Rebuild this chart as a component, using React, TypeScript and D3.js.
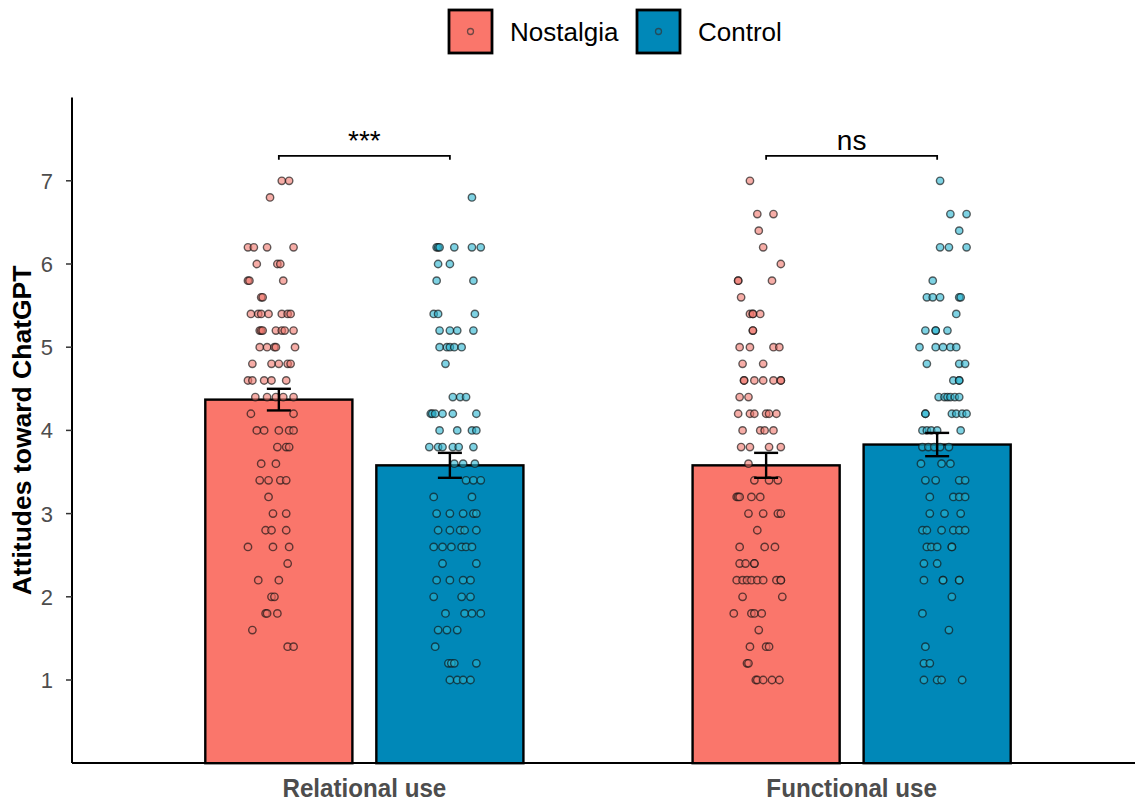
import React, { useEffect, useRef } from 'react';
import * as d3 from 'd3';

// categories
const groups = ['Relational use', 'Functional use'];
const conditions = ['Nostalgia', 'Control'];
const yTicks = [1, 2, 3, 4, 5, 6, 7];

// bar means and error bar limits, per group (Relational, Functional)
const meanNostalgia = [4.37, 3.58];
const meanControl = [3.58, 3.83];
const errNostalgia = [[4.24, 4.5], [3.43, 3.73]];
const errControl = [[3.43, 3.73], [3.69, 3.97]];
const sigLabels = ['***', 'ns'];
const sigLevel = 7.3;

// raw responses: [score, jitter offsets as fraction of bar width]
const relNostalgiaPts: [number, number[]][] = [
  [7.0, [0.02, 0.07]], [6.8, [-0.06]], [6.2, [-0.21, -0.17, -0.08, 0.1]],
  [6.0, [-0.15, -0.01, 0.01]], [5.8, [-0.21, -0.2, 0.03]], [5.6, [-0.12, -0.11]],
  [5.4, [-0.19, -0.14, -0.12, -0.07, 0.02, 0.06, 0.08]],
  [5.2, [-0.13, -0.12, -0.11, -0.02, 0.02, 0.04, 0.1]],
  [5.0, [-0.13, -0.08, -0.03, -0.02, 0.11]], [4.8, [-0.18, -0.05, 0, 0.06, 0.08]],
  [4.6, [-0.21, -0.18, -0.1, -0.05, 0.05]], [4.4, [-0.16, -0.08, -0.02, 0.03, 0.1]],
  [4.2, [-0.19, 0.1]], [4.0, [-0.15, -0.1, 0, 0.07, 0.1]], [3.8, [-0.01, 0.05, 0.07]],
  [3.6, [-0.12, -0.02]], [3.4, [-0.13, -0.07, 0.01, 0.05]], [3.2, [-0.07]],
  [3.0, [-0.04, 0.05]], [2.8, [-0.09, -0.05, 0.05]], [2.6, [-0.21, -0.04, 0.07]],
  [2.4, [0.06]], [2.2, [-0.14, 0]], [2.0, [-0.05, -0.03]], [1.8, [-0.09, -0.08, -0.01]],
  [1.6, [-0.18]], [1.4, [0.06, 0.1]],
];
const relControlPts: [number, number[]][] = [
  [6.8, [0.15]], [6.2, [-0.09, -0.08, -0.07, 0.03, 0.15, 0.21]], [6.0, [-0.08, 0]],
  [5.8, [-0.09, 0.16]], [5.4, [-0.11, -0.08, 0.17]], [5.2, [-0.07, 0, 0.05, 0.16]],
  [5.0, [-0.07, -0.02, 0, 0.03, 0.08]], [4.8, [-0.03]], [4.4, [0.02, 0.07, 0.11]],
  [4.2, [-0.13, -0.12, -0.1, -0.05, 0.02, 0.18]], [4.0, [-0.07, 0.05, 0.15, 0.18]],
  [3.8, [-0.14, -0.08, -0.05, 0.02, 0.06, 0.16]], [3.6, [0.03, 0.09, 0.17]],
  [3.4, [0.11, 0.16, 0.21]], [3.2, [-0.11, 0.15]], [3.0, [-0.09, 0, 0.09, 0.16, 0.18]],
  [2.8, [-0.08, 0, 0.07, 0.1, 0.18]], [2.6, [-0.11, -0.05, 0.01, 0.08, 0.11, 0.15]],
  [2.4, [-0.05, 0.18]], [2.2, [-0.09, 0, 0.09, 0.14]], [2.0, [-0.11, 0.08, 0.14]],
  [1.8, [-0.03, 0.1, 0.15, 0.21]], [1.6, [-0.08, -0.02, 0.05]], [1.4, [-0.1]],
  [1.2, [-0.01, 0.01, 0.03, 0.18]], [1.0, [0, 0.05, 0.09, 0.14]],
];
const funcNostalgiaPts: [number, number[]][] = [
  [7.0, [-0.11]], [6.6, [-0.06, 0.05]], [6.4, [-0.05]], [6.2, [-0.02]], [6.0, [0.1]],
  [5.8, [-0.19, -0.19, 0.04]], [5.6, [-0.17]], [5.4, [-0.11, -0.09, -0.09, -0.04]],
  [5.2, [-0.09, -0.09]], [5.0, [-0.18, -0.11, 0.05, 0.09]], [4.8, [-0.16, -0.02]],
  [4.6, [-0.15, -0.15, -0.08, -0.02, 0.05, 0.1, 0.1]], [4.4, [-0.18, -0.12]],
  [4.2, [-0.19, -0.11, -0.08, 0, 0.02, 0.07]], [4.0, [-0.16, -0.04, -0.01, 0.05]],
  [3.8, [-0.17, -0.11, 0.02, 0.1]], [3.6, [-0.12]], [3.4, [-0.08, 0.02, 0.08]],
  [3.2, [-0.2, -0.19, -0.18, -0.1, -0.04]], [3.0, [-0.12, -0.02, 0.08, 0.1]],
  [2.8, [-0.06]], [2.6, [-0.18, -0.01, 0.06]], [2.4, [-0.18, -0.14, -0.08, -0.08]],
  [2.2, [-0.2, -0.16, -0.13, -0.1, -0.06, -0.02, 0.07, 0.1, 0.1]], [2.0, [-0.16, 0.11]],
  [1.8, [-0.22, -0.1, -0.08, -0.03]], [1.6, [-0.05]], [1.4, [-0.11, 0, 0.02]],
  [1.2, [-0.13, -0.12]], [1.0, [-0.07, -0.06, -0.02, 0.04, 0.09]],
];
const funcControlPts: [number, number[]][] = [
  [7.0, [0.02]], [6.6, [0.09, 0.2]], [6.4, [0.15]], [6.2, [0.02, 0.08, 0.2]],
  [5.8, [-0.03]], [5.6, [-0.07, -0.03, 0.02, 0.15, 0.16]], [5.4, [0.13]],
  [5.2, [-0.08, -0.01, -0.01, 0.07]], [5.0, [-0.12, -0.01, 0.04, 0.09, 0.13]],
  [4.8, [-0.07, 0.15, 0.19]], [4.6, [0.11, 0.15, 0.15]],
  [4.4, [0.01, 0.05, 0.07, 0.09, 0.12, 0.15]], [4.2, [-0.08, -0.08, 0.1, 0.13, 0.17, 0.2]],
  [4.0, [-0.1, -0.07, -0.04, 0, 0.16]], [3.8, [-0.1, -0.06, -0.02, 0.02, 0.08]],
  [3.6, [-0.11, 0.03, 0.09]], [3.4, [-0.08, -0.01, 0.15, 0.19]],
  [3.2, [-0.05, 0.11, 0.15, 0.19]], [3.0, [-0.05, 0.05, 0.16]],
  [2.8, [-0.1, -0.07, 0.03, 0.11, 0.15, 0.19]], [2.6, [-0.07, -0.04, 0, 0.1, 0.1]],
  [2.4, [-0.09, 0]], [2.2, [-0.09, 0.04, 0.04, 0.15, 0.15]], [2.0, [0.1]], [1.8, [-0.1]],
  [1.6, [0.08]], [1.4, [-0.08]], [1.2, [-0.09, -0.05]], [1.0, [-0.09, 0, 0.03, 0.17]],
];

const barColor = { Nostalgia: '#FA766B', Control: '#0088B8' };
const pointColor = { Nostalgia: '#F0766C', Control: '#28B4D0' };
const font = 'Liberation Sans, Arial, sans-serif';

export default function App() {
  const svgRef = useRef<SVGSVGElement>(null);

  useEffect(() => {
    document.body.style.margin = '0';
    const width = 1135;
    const height = 802;
    const left = 72;
    const bottomY = 763;

    const svg = d3.select(svgRef.current).attr('width', width).attr('height', height);
    svg.selectAll('*').remove();

    const y = d3.scaleLinear().domain([0, 8]).range([763.2, 97.6]);
    const x = d3.scalePoint().domain(groups).range([left, 1144]).padding(0.6);
    const step = x.step();
    const xSub = d3.scaleBand().domain(conditions)
      .range([-0.351 * step, 0.351 * step]).paddingInner(0.14).paddingOuter(0.07);
    const bw = xSub.bandwidth();
    const cx = (g: string, c: string) => (x(g) as number) + (xSub(c) as number) + bw / 2;

    const rows = groups.flatMap((g, i) => [
      { g, c: 'Nostalgia', mean: meanNostalgia[i], err: errNostalgia[i], pts: i === 0 ? relNostalgiaPts : funcNostalgiaPts },
      { g, c: 'Control', mean: meanControl[i], err: errControl[i], pts: i === 0 ? relControlPts : funcControlPts },
    ]);

    // Bars
    svg.append('g').selectAll('rect').data(rows).join('rect')
      .attr('x', d => cx(d.g, d.c) - bw / 2).attr('width', bw)
      .attr('y', d => y(d.mean)).attr('height', d => y(0) - y(d.mean))
      .attr('fill', d => barColor[d.c]).attr('stroke', '#000').attr('stroke-width', 2.4);

    // Points
    rows.forEach(r => {
      const pts = r.pts.flatMap(([v, js]) => js.map(j => ({ v, j })));
      svg.append('g').selectAll('circle').data(pts).join('circle')
        .attr('cx', d => cx(r.g, r.c) + d.j * bw).attr('cy', d => y(d.v)).attr('r', 3.7)
        .attr('fill', pointColor[r.c]).attr('fill-opacity', 0.6)
        .attr('stroke', '#111').attr('stroke-opacity', 0.65).attr('stroke-width', 1.4);
    });

    // Error bars
    const eb = svg.append('g').attr('stroke', '#000').attr('stroke-width', 2.4);
    rows.forEach(r => {
      const c = cx(r.g, r.c);
      const [lo, hi] = r.err;
      eb.append('line').attr('x1', c).attr('x2', c).attr('y1', y(lo)).attr('y2', y(hi));
      eb.append('line').attr('x1', c - 12).attr('x2', c + 12).attr('y1', y(lo)).attr('y2', y(lo));
      eb.append('line').attr('x1', c - 12).attr('x2', c + 12).attr('y1', y(hi)).attr('y2', y(hi));
    });

    // Significance brackets
    groups.forEach((g, i) => {
      const x1 = cx(g, 'Nostalgia');
      const x2 = cx(g, 'Control');
      const yy = y(sigLevel);
      svg.append('path')
        .attr('d', `M${x1},${yy + 4}V${yy}H${x2}V${yy + 4}`)
        .attr('fill', 'none').attr('stroke', '#000').attr('stroke-width', 1.8);
      svg.append('text').attr('x', (x1 + x2) / 2).attr('y', yy - 6)
        .attr('text-anchor', 'middle').attr('font-family', font)
        .attr('font-size', 28).attr('fill', '#000').text(sigLabels[i]);
    });

    // Axes lines
    svg.append('line').attr('x1', left).attr('x2', width).attr('y1', bottomY).attr('y2', bottomY)
      .attr('stroke', '#000').attr('stroke-width', 2);
    svg.append('line').attr('x1', left).attr('x2', left).attr('y1', 97.6).attr('y2', bottomY)
      .attr('stroke', '#000').attr('stroke-width', 2);

    // Y ticks
    const yt = svg.append('g');
    yt.selectAll('line').data(yTicks).join('line')
      .attr('x1', left - 6).attr('x2', left).attr('y1', d => y(d)).attr('y2', d => y(d))
      .attr('stroke', '#333').attr('stroke-width', 1.5);
    yt.selectAll('text').data(yTicks).join('text')
      .attr('x', left - 19).attr('y', d => y(d)).attr('dy', '0.36em').attr('text-anchor', 'end')
      .attr('font-family', font).attr('font-size', 22)
      .attr('fill', '#4D4D4D').text(d => d);

    // Y title
    svg.append('text').attr('transform', `translate(31,${(y(0) + y(8)) / 2}) rotate(-90)`)
      .attr('text-anchor', 'middle').attr('font-family', font)
      .attr('font-weight', 'bold').attr('font-size', 26.5).attr('fill', '#000')
      .text('Attitudes toward ChatGPT');

    // X labels
    svg.append('g').selectAll('text').data(groups).join('text')
      .attr('transform', d => `translate(${x(d)},797) scale(0.93,1)`).attr('text-anchor', 'middle')
      .attr('font-family', font)
      .attr('font-weight', 'bold').attr('font-size', 26).attr('fill', '#4D4D4D').text(d => d);

    // Legend
    const legendX = [449, 637];
    const lg = svg.append('g');
    conditions.forEach((c, i) => {
      const lx = legendX[i];
      lg.append('rect').attr('x', lx).attr('y', 10).attr('width', 43).attr('height', 43)
        .attr('fill', barColor[c]).attr('stroke', '#000').attr('stroke-width', 2.8);
      lg.append('circle').attr('cx', lx + 21.5).attr('cy', 31.5).attr('r', 3)
        .attr('fill', 'none').attr('stroke', '#333').attr('stroke-opacity', 0.7).attr('stroke-width', 1.3);
      lg.append('text').attr('x', lx + 61).attr('y', 41).attr('font-family', font)
        .attr('font-size', 26).attr('fill', '#000').text(c);
    });
  }, []);

  return (
    <div style={{ width: 1135, height: 802 }}>
      <svg ref={svgRef} style={{ display: 'block' }} />
    </div>
  );
}
